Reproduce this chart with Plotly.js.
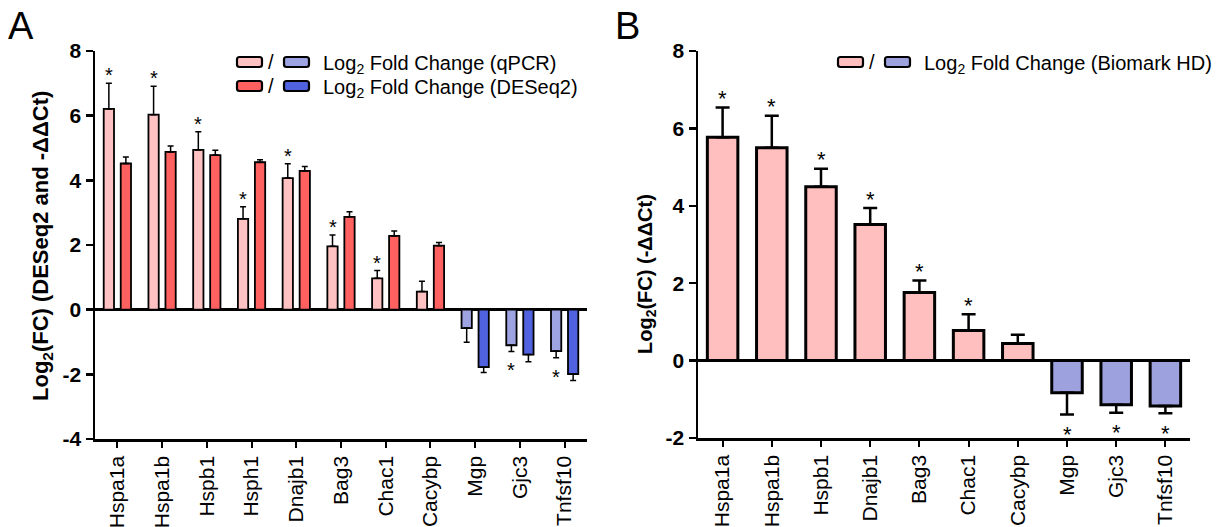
<!DOCTYPE html>
<html><head><meta charset="utf-8">
<script src="https://cdn.plot.ly/plotly-3.0.1.min.js"></script>
<style>html,body{margin:0;padding:0;background:#fff}</style>
</head><body><div id="chart" style="width:1226px;height:527px"></div>
<script>
// ---------- data ----------
const genesA = ["Hspa1a","Hspa1b","Hspb1","Hsph1","Dnajb1","Bag3","Chac1","Cacybp","Mgp","Gjc3","Tnfsf10"];
const qpcrA = [6.21,6.03,4.94,2.81,4.07,1.96,0.97,0.56,-0.57,-1.10,-1.28];
const qpcrErrA = [0.79,0.88,0.56,0.37,0.44,0.35,0.24,0.32,0.44,0.19,0.21];
const deseqA = [4.52,4.88,4.78,4.56,4.29,2.87,2.28,1.98,-1.78,-1.39,-1.99];
const deseqErrA = [0.20,0.18,0.15,0.08,0.14,0.16,0.15,0.10,0.16,0.22,0.20];
const sigQpcrA = [1,1,1,1,1,1,1,0,0,1,1];
const yTicksA = [-4,-2,0,2,4,6,8];
const yTickTextA = ["-4","-2","0","2","4","6","8"];

const genesB = ["Hspa1a","Hspa1b","Hspb1","Dnajb1","Bag3","Chac1","Cacybp","Mgp","Gjc3","Tnfsf10"];
const biomarkB = [5.77,5.50,4.49,3.52,1.76,0.78,0.44,-0.83,-1.14,-1.17];
const biomarkErrB = [0.77,0.83,0.47,0.42,0.31,0.42,0.23,0.56,0.21,0.19];
const sigB = [1,1,1,1,1,1,0,1,1,1];
const yTicksB = [-2,0,2,4,6,8];
const yTickTextB = ["-2","0","2","4","6","8"];

// ---------- styles ----------
const W = 1226, H = 527;
const FONT = "Liberation Sans, Arial, Helvetica, sans-serif";
const PINK_L = "#FFC1C1", RED = "#FF6060", BLUE_L = "#9EA3E2", BLUE_D = "#5062E0";
const PINK_B = "#FFBFBF", BLUE_B = "#9DA2DF";
const px = x => x / W, py = y => 1 - y / H;
const idx = arr => arr.map((_, i) => i);
const colorBySign = (vals, pos, neg) => vals.map(v => v >= 0 ? pos : neg);
const errPlus = (vals, errs) => vals.map((v, i) => v >= 0 ? errs[i] : 0);
const errMinus = (vals, errs) => vals.map((v, i) => v < 0 ? errs[i] : 0);

const OFF_A = 0.19, WID_A = 0.23, WID_B = 0.62;

function barTrace(x, vals, errs, colors, width, offset, lw, ew, ecw, xa, ya) {
  return {
    type: "bar", x: x, y: vals, width: width, offset: offset,
    xaxis: xa, yaxis: ya, showlegend: false, hoverinfo: "skip",
    marker: {color: colors, line: {color: "#000", width: lw}},
    error_y: {type: "data", symmetric: false, array: errPlus(vals, errs),
              arrayminus: errMinus(vals, errs), color: "#000", thickness: ew, width: ecw}
  };
}

const xA = idx(genesA), xB = idx(genesB);
const traces = [
  barTrace(xA, qpcrA, qpcrErrA, colorBySign(qpcrA, PINK_L, BLUE_L), WID_A, -OFF_A - WID_A / 2, 1.8, 1.5, 3, "x", "y"),
  barTrace(xA, deseqA, deseqErrA, colorBySign(deseqA, RED, BLUE_D), WID_A, OFF_A - WID_A / 2, 1.8, 1.5, 3, "x", "y"),
  barTrace(xB, biomarkB, biomarkErrB, colorBySign(biomarkB, PINK_B, BLUE_B), WID_B, -WID_B / 2, 3, 2.5, 7, "x2", "y2")
];

// ---------- annotations ----------
const ann = [];
function txt(x, y, text, size, opts) {
  ann.push(Object.assign({xref: "paper", yref: "paper", x: px(x), y: py(y), text: text,
    xanchor: "center", yanchor: "middle",
    showarrow: false, font: {family: FONT, size: size, color: "#000"}}, opts || {}));
}
txt(21, 26, "A", 38);
txt(627, 26, "B", 38);
txt(42, 246, "<b>Log<sub>2</sub>(FC) (DESeq2 and -ΔΔCt)</b>", 22, {textangle: -90});
txt(646, 274, "<b>Log<sub>2</sub>(FC) (-ΔΔCt)</b>", 20, {textangle: -90});

// asterisks
function stars(xs, vals, errs, sig, xshift, xa, ya, up, down, size) {
  xs.forEach((x, i) => {
    if (!sig[i]) return;
    const v = vals[i], end = v >= 0 ? v + errs[i] : v - errs[i];
    ann.push({xref: xa, yref: ya, x: x + xshift, y: end, text: "*", showarrow: false,
      xanchor: "center", yanchor: "middle", yshift: v >= 0 ? up : down,
      font: {family: FONT, size: size, color: "#000"}});
  });
}
stars(xA, qpcrA, qpcrErrA, sigQpcrA, -OFF_A, "x", "y", 8, -19, 20);
stars(xB, biomarkB, biomarkErrB, sigB, 0, "x2", "y2", 9, -20, 22);

// legends
const shapes = [];
function rbox(x0, y0, x1, y1, fill) {
  const r = 2.5;
  const p = (x, y) => px(x) + "," + py(y);
  const path = "M" + p(x0 + r, y0) + " L" + p(x1 - r, y0) + " Q" + p(x1, y0) + " " + p(x1, y0 + r) +
    " L" + p(x1, y1 - r) + " Q" + p(x1, y1) + " " + p(x1 - r, y1) +
    " L" + p(x0 + r, y1) + " Q" + p(x0, y1) + " " + p(x0, y1 - r) +
    " L" + p(x0, y0 + r) + " Q" + p(x0, y0) + " " + p(x0 + r, y0) + " Z";
  shapes.push({type: "path", xref: "paper", yref: "paper", path: path,
    fillcolor: fill, line: {color: "#000", width: 2.2}});
}
function legendRow(x, y, c1, c2, label) {
  rbox(x, y - 5, x + 25, y + 5, c1);
  txt(x + 34, y, "/", 20);
  rbox(x + 47, y - 5, x + 72, y + 5, c2);
  txt(x + 84, y + 2, label, 20, {xanchor: "left"});
}
legendRow(237, 62, PINK_L, BLUE_L, "Log<sub>2</sub> Fold Change (qPCR)");
legendRow(237, 86, RED, BLUE_D, "Log<sub>2</sub> Fold Change (DESeq2)");
legendRow(838, 62, PINK_B, BLUE_B, "Log<sub>2</sub> Fold Change (Biomark HD)");

// ---------- axes ----------
function xAxis(domain, n, labels, anchor) {
  return {domain: domain, range: [-0.5, n - 0.5], tickvals: idx(labels), ticktext: labels,
    tickangle: -90, ticks: "outside", ticklen: 6, tickwidth: 2, tickcolor: "#000",
    showline: true, linecolor: "#000", linewidth: 2.5, showgrid: false, zeroline: false,
    tickfont: {family: FONT, size: 21, color: "#000"}, anchor: anchor, fixedrange: true};
}
function yAxis(domain, range, vals, texts, anchor) {
  return {domain: domain, range: range, tickvals: vals, ticktext: texts, ticks: "outside", ticklen: 7,
    tickwidth: 2.5, tickcolor: "#000", showline: true, linecolor: "#000", linewidth: 2.5,
    showgrid: false, zeroline: true, zerolinecolor: "#000", zerolinewidth: 2.5,
    tickfont: {family: FONT, size: 21, color: "#000", weight: "bold"}, anchor: anchor, fixedrange: true};
}

const layout = {
  width: W, height: H, margin: {l: 0, r: 0, t: 0, b: 0},
  paper_bgcolor: "#fff", plot_bgcolor: "rgba(0,0,0,0)", showlegend: false,
  barmode: "overlay",
  xaxis: xAxis([px(95), px(587)], genesA.length, genesA, "y"),
  yaxis: yAxis([py(439), py(51)], [-4, 8], yTicksA, yTickTextA, "x"),
  xaxis2: xAxis([px(698), px(1190)], genesB.length, genesB, "y2"),
  yaxis2: yAxis([py(438), py(51)], [-2, 8], yTicksB, yTickTextB, "x2"),
  annotations: ann, shapes: shapes
};

Plotly.newPlot("chart", traces, layout, {displayModeBar: false, staticPlot: true});
</script>
</body></html>
